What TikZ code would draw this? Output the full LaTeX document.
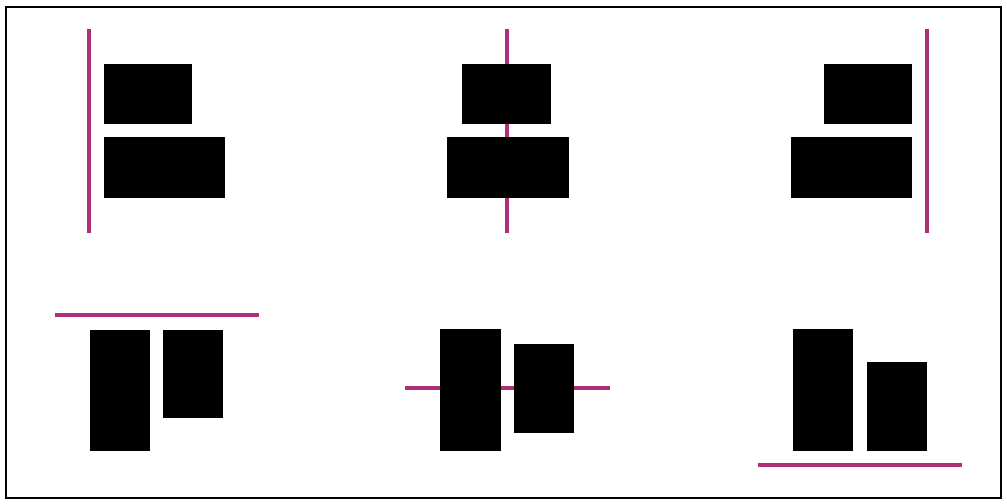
\documentclass[tikz,border=0pt]{standalone}
\usepackage{tikz}
\definecolor{guidepink}{rgb}{0.69, 0.19, 0.47}
\tikzset{
  bar/.style={fill=black},
  guide/.style={line width=0.9pt, guidepink}
}

\begin{document}
\begin{tikzpicture}[x=0.01cm, y=-0.01cm]
  \useasboundingbox (0, 0) rectangle (1007, 504);
  % Frame
  \draw[line width=0.6pt] (6, 7) rectangle (1001, 498);
  % Align left
  \draw[guide] (89, 29) -- (89, 233);
  \fill[bar] (104, 64) rectangle (192, 124);
  \fill[bar] (104, 137) rectangle (225, 198);
  % Align centre
  \draw[guide] (507, 29) -- (507, 233);
  \fill[bar] (462, 64) rectangle (551, 124);
  \fill[bar] (447, 137) rectangle (569, 198);
  % Align right
  \draw[guide] (927, 29) -- (927, 233);
  \fill[bar] (824, 64) rectangle (912, 124);
  \fill[bar] (791, 137) rectangle (912, 198);
  % Align top
  \draw[guide] (55, 315) -- (259, 315);
  \fill[bar] (90, 330) rectangle (150, 451);
  \fill[bar] (163, 330) rectangle (223, 418);
  % Align middle
  \draw[guide] (405, 388) -- (610, 388);
  \fill[bar] (440, 329) rectangle (501, 451);
  \fill[bar] (514, 344) rectangle (574, 433);
  % Align bottom
  \draw[guide] (758, 465) -- (962, 465);
  \fill[bar] (793, 329) rectangle (853, 451);
  \fill[bar] (867, 362) rectangle (927, 451);
\end{tikzpicture}
\end{document}
